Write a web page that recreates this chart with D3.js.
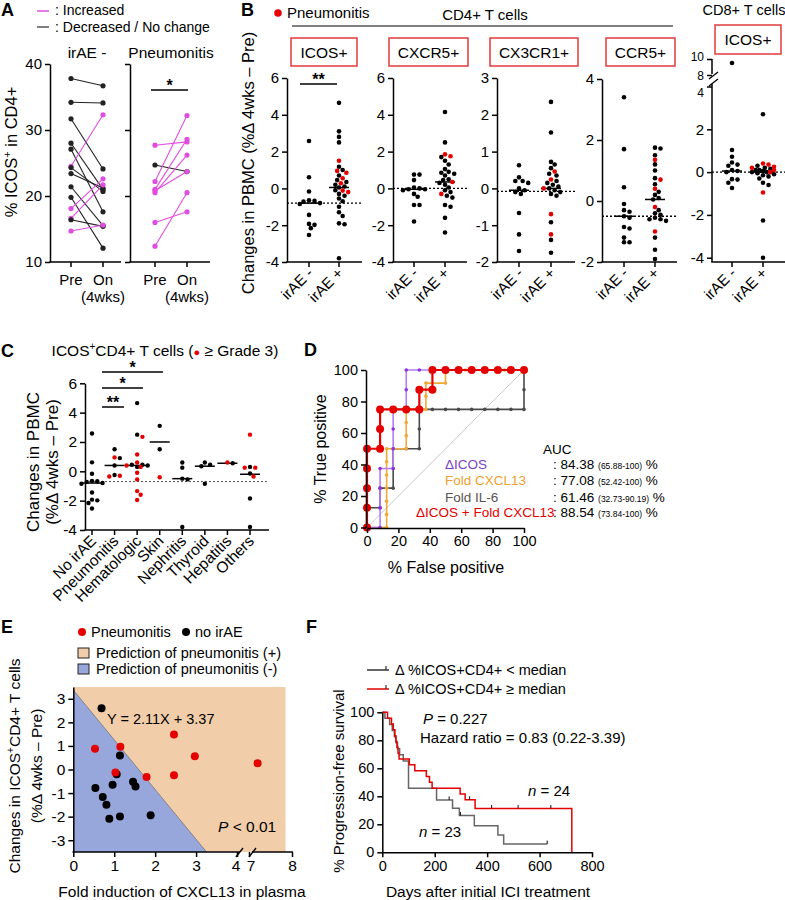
<!DOCTYPE html>
<html>
<head>
<meta charset="utf-8">
<script src="https://cdn.jsdelivr.net/npm/d3@7"></script>
<style>
  body { margin: 0; background: #fff; }
  svg { font-family: "Liberation Sans", Arial, sans-serif; }
</style>
</head>
<body>
<script>
// ---- data: panel A (paired % ICOS+ in CD4+) ----
var aCats = ["Pre", "On"];
var aTicks = [10, 20, 30, 40];
var aIraePre = [37.8, 34.2, 31.7, 28.0, 27.1, 24.5, 24.3, 23.4, 21.4, 19.8, 18.1, 16.6, 16.4, 14.7];
var aIraeOn  = [36.7, 34.1, 24.1, 21.0, 17.6, 32.3, 20.7, 21.2, 15.5, 12.1, 22.6, 21.7, 15.4, 15.6];
var aPnPre = [27.7, 24.7, 22.2, 21.0, 20.5, 20.8, 16.0, 12.4];
var aPnOn  = [28.2, 23.7, 32.2, 28.6, 26.2, 23.7, 17.6, 20.5];

// ---- data: panel B (change in PBMC, irAE- / irAE+) ----
var bMarkers = ["ICOS+", "CXCR5+", "CX3CR1+", "CCR5+", "ICOS+"];
var bGroups = ["irAE -", "irAE +"];
var bNeg = [
  [2.58, 0.61, -0.17, -0.65, -0.68, -0.72, -0.8, -0.85, -1.44, -1.93, -1.98, -2.16, -2.53],
  [0.75, 0.75, 0.45, 0.05, 0.0, -0.05, -0.05, -0.1, -0.3, -0.45, -0.9, -0.9, -1.8],
  [0.63, 0.3, 0.2, 0.2, 0.15, 0.0, -0.05, -0.1, -0.15, -0.67, -1.25, -1.7],
  [3.4, 1.7, 0.45, -0.1, -0.3, -0.35, -0.5, -0.55, -0.85, -0.9, -1.2, -1.35, -1.35],
  [9.5, 1.03, 0.72, 0.45, 0.35, 0.3, 0.1, 0.05, 0.0, -0.33, -0.35, -0.5, -0.74]
];
var bPosBlack = [
  [4.65, 3.1, 2.8, 2.5, 1.18, 1.0, 0.7, 0.45, 0.35, 0.2, 0.1, 0.05, -0.1, -0.3, -0.4, -0.55, -0.7, -1.0, -1.3, -1.5, -1.9, -1.95, -3.8],
  [4.15, 2.5, 1.7, 1.5, 1.3, 1.05, 0.9, 0.85, 0.8, 0.7, 0.5, 0.45, 0.3, 0.2, 0.05, -0.1, -0.2, -0.4, -0.5, -0.9, -1.0, -1.6, -2.4],
  [2.35, 1.52, 0.72, 0.65, 0.55, 0.4, 0.35, 0.2, 0.15, 0.1, 0.05, 0.0, -0.05, -0.1, -0.15, -0.2, -0.92, -1.4, -1.75],
  [1.75, 1.72, 1.5, 1.2, 1.0, 0.75, 0.55, 0.3, 0.2, 0.1, 0.05, -0.3, -0.4, -0.45, -0.55, -0.6, -0.6, -0.65, -1.2, -1.6, -1.9],
  [2.7, 0.3, 0.2, 0.15, 0.1, 0.1, 0.05, 0.0, 0.0, -0.05, -0.1, -0.15, -0.2, -0.3, -0.5, -0.6, -2.26, -4.0]
];
var bPosRed = [
  [1.5, 0.95, 0.85, 0.55, 0.28, -0.12, -0.2],
  [1.85, 1.75, 0.35, -0.3],
  [0.46, 0.24, 0.0, -0.7, -1.25],
  [1.35, 0.7, 0.4, -0.2, -1.0],
  [0.4, 0.35, 0.25, 0.2, 0.1, 0.0, -0.95]
];
var bMedNeg = [-0.8, -0.05, -0.05, -0.5, 0.05];
var bMedPos = [0.05, 0.35, 0.0, 0.05, 0.0];
var bRef = [-0.8, 0.0, -0.08, -0.5, 0.0];
var bTicks = [[-4, -2, 0, 2, 4, 6], [-4, -2, 0, 2, 4, 6], [-2, -1, 0, 1, 2, 3], [-2, 0, 2, 4], [-4, -2, 0, 2, 4, 8, 10]];

// ---- data: panel C (ICOS+CD4+ by irAE type) ----
var cCats = ["No irAE", "Pneumonitis", "Hematologic", "Skin", "Nephritis", "Thyroid", "Hepatitis", "Others"];
var cBlack = [
  [2.58, 0.61, -0.17, -0.65, -0.68, -0.72, -0.8, -0.85, -1.44, -1.93, -1.98, -2.16, -2.53],
  [1.5, 0.9, 0.4, -0.25],
  [4.65, 2.5, 0.45, 0.45, 0.4, 0.3],
  [3.1, 1.5],
  [0.6, 0.25, -0.5, -0.55, -3.8],
  [0.6, 0.45, 0.35, -0.85],
  [0.55],
  [0.3, -0.15, -1.85, -3.8]
];
var cRed = [
  [],
  [0.95, -0.3, -0.35],
  [2.35, 1.15, 0.6, 0.4, 0.3, -0.1, -0.55, -1.35, -1.6, -1.95],
  [-0.4],
  [],
  [],
  [0.6],
  [2.5, 0.25, 0.25, -0.35]
];
var cMedians = [-0.8, 0.4, 0.4, 2.0, -0.5, 0.35, 0.55, -0.2];
var cRef = -0.7;
var cTicks = [-4, -2, 0, 2, 4, 6];

// ---- data: panel D (ROC curves, % false positive / % true positive) ----
var rocNames = ["Fold IL-6", "Fold CXCL13", "\u0394ICOS", "\u0394ICOS + Fold CXCL13"];
var rocAuc = ["61.46", "77.08", "84.38", "88.54"];
var rocCi = ["(32.73-90.19)", "(52.42-100)", "(65.88-100)", "(73.84-100)"];
var rocFpr = [
  [0, 0, 8.33, 8.33, 16.67, 16.67, 16.67, 25, 33.33, 33.33, 33.33, 41.67, 50, 58.33, 66.67, 75, 83.33, 91.67, 100, 100, 100],
  [0, 12.5, 12.5, 12.5, 12.5, 12.5, 12.5, 12.5, 25, 25, 25, 25, 37.5, 37.5, 37.5, 50, 50, 62.5, 75, 87.5, 100],
  [0, 8.33, 8.33, 8.33, 8.33, 16.67, 16.67, 16.67, 16.67, 25, 25, 25, 33.33, 41.67, 50, 58.33, 66.67, 75, 83.33, 91.67, 100],
  [0, 0, 0, 0, 0, 8.33, 8.33, 8.33, 16.67, 25, 33.33, 33.33, 41.67, 41.67, 50, 58.33, 66.67, 75, 83.33, 91.67, 100]
];
var rocTpr = [
  [0, 12.5, 12.5, 25, 25, 37.5, 50, 50, 50, 62.5, 75, 75, 75, 75, 75, 75, 75, 75, 75, 87.5, 100],
  [0, 0, 8.33, 16.67, 25, 33.33, 41.67, 50, 50, 58.33, 66.67, 75, 75, 83.33, 91.67, 91.67, 100, 100, 100, 100, 100],
  [0, 0, 12.5, 25, 37.5, 37.5, 50, 62.5, 75, 75, 87.5, 100, 100, 100, 100, 100, 100, 100, 100, 100, 100],
  [0, 12.5, 25, 37.5, 50, 50, 62.5, 75, 75, 75, 75, 87.5, 87.5, 100, 100, 100, 100, 100, 100, 100, 100]
];

// ---- data: panel E (CXCL13 fold vs change in ICOS+CD4+) ----
var ePnX = [0.53, 1.15, 1.03, 1.79, 2.46, 2.46, 2.97, 7.2];
var ePnY = [0.88, 0.97, -0.13, -0.32, 1.48, -0.24, 0.56, 0.27];
var eNoX = [0.69, 1.14, 1.06, 0.54, 0.96, 0.72, 0.81, 0.88, 1.14, 1.46, 1.52, 1.89];
var eNoY = [2.6, 0.59, -0.2, -0.79, -0.65, -1.17, -1.5, -2.09, -1.99, -0.52, -0.72, -1.94];
var eSlope = -2.11, eIntercept = 3.37;
var eXTicks = [0, 1, 2, 3, 4, 7, 8];
var eYTicks = [-3, -2, -1, 0, 1, 2, 3];

// ---- data: panel F (Kaplan-Meier, days / % PFS) ----
var kmHigh = [[0, 100], [20, 95.8], [35, 91.7], [42, 87.5], [48, 83.3], [52, 79.2], [56, 75], [60, 70.8], [64, 66.7], [103, 62.5], [124, 58.3], [168, 54.2], [180, 50], [190, 45.8], [297, 41.7], [316, 37.5], [354, 31.3], [723, 0]];
var kmLow = [[0, 100], [10, 95.7], [28, 91.3], [38, 87], [46, 82.6], [52, 78.3], [58, 73.9], [66, 69.6], [80, 65.2], [100, 45.7], [207, 37.4], [268, 31.4], [294, 26.2], [351, 19], [441, 12.3], [463, 5.9], [629, 5.9]];
var kmHighCens = [[333, 37.5], [417, 31.3], [518, 31.3], [643, 31.3]];
var kmLowCens = [[255, 37.4], [298, 26.2], [629, 5.9]];
var fXTicks = [0, 200, 400, 600, 800];
var fYTicks = [0, 20, 40, 60, 80, 100];

var RED = "#e50000", MAG = "#e04ee0";
var svg = d3.select("body").append("svg").attr("width", 785).attr("height", 900);
var fmt = function (d) { return String(d); };

function text(x, y, s, size, anchor) {
  return svg.append("text").attr("x", x).attr("y", y).attr("font-size", size)
    .attr("text-anchor", anchor || "start").text(s);
}
function vtext(x, y, s, size) {
  return svg.append("text").attr("transform", "translate(" + x + "," + y + ") rotate(-90)")
    .attr("font-size", size).attr("text-anchor", "middle").text(s);
}
function letter(x, y, s) {
  text(x, y, s, 18).attr("font-weight", "bold");
}
function yAxis(x, scale, ticks, size, noLabels) {
  var g = svg.append("g").attr("transform", "translate(" + x + ",0)")
    .call(d3.axisLeft(scale).tickValues(ticks).tickSize(5).tickSizeOuter(0).tickPadding(3)
      .tickFormat(noLabels ? "" : fmt));
  g.attr("font-family", null).attr("font-size", size);
  g.selectAll("path,line").attr("stroke", "#000").attr("stroke-width", 1.5);
  g.selectAll("text").attr("fill", "#000");
  return g;
}
function xAxis(y, scale, ticks, size, labels) {
  var g = svg.append("g").attr("transform", "translate(0," + y + ")")
    .call(d3.axisBottom(scale).tickValues(ticks).tickSize(5).tickSizeOuter(0).tickPadding(3)
      .tickFormat(labels ? fmt : ""));
  g.attr("font-family", null).attr("font-size", size);
  g.selectAll("path,line").attr("stroke", "#000").attr("stroke-width", 1.5);
  g.selectAll("text").attr("fill", "#000");
  return g;
}
function hline(x1, x2, y, w, dash) {
  return svg.append("line").attr("x1", x1).attr("x2", x2).attr("y1", y).attr("y2", y)
    .attr("stroke", "#000").attr("stroke-width", w || 1.5).attr("stroke-dasharray", dash || null);
}
function sig(x1, x2, y, s) {
  hline(x1, x2, y, 1.5);
  text((x1 + x2) / 2, y + 1, s, 16, "middle").attr("font-weight", "bold");
}
// simple deterministic beeswarm: nearest free slot within maxOff, else least crowded
function swarm(black, red, y, cx, r, maxOff) {
  var pts = black.map(function (v) { return { v: v, red: false }; })
    .concat(red.map(function (v) { return { v: v, red: true }; }));
  pts.forEach(function (p) { p.y = y(p.v); });
  pts.sort(function (a, b) { return a.y - b.y; });
  var placed = [];
  pts.forEach(function (p) {
    var bestOff = 0, bestD = -1;
    for (var k = 0; k < 80; k++) {
      var off = (k % 2 === 1 ? 1 : -1) * Math.ceil(k / 2) * r * 0.8;
      if (Math.abs(off) > maxOff) break;
      var dmin = d3.min(placed, function (q) {
        var dx = q.x - (cx + off), dy = q.y - p.y;
        return dx * dx + dy * dy;
      });
      if (dmin === undefined || dmin >= 3.6 * r * r) { bestOff = off; bestD = Infinity; break; }
      if (dmin > bestD) { bestD = dmin; bestOff = off; }
    }
    p.x = cx + bestOff;
    placed.push(p);
  });
  pts.sort(function (a, b) { return a.red - b.red; });
  return pts;
}
function dots(pts, r) {
  svg.append("g").selectAll("circle").data(pts).join("circle")
    .attr("cx", function (d) { return d.x; }).attr("cy", function (d) { return d.y; })
    .attr("r", r).attr("fill", function (d) { return d.red ? RED : "#000"; });
}
function rotLabel(x, y, s, size) {
  svg.append("text").attr("transform", "translate(" + x + "," + y + ") rotate(-45)")
    .attr("font-size", size).attr("text-anchor", "end").text(s);
}

// ================= Panel A =================
letter(1, 16, "A");
svg.append("line").attr("x1", 37).attr("x2", 49).attr("y1", 11).attr("y2", 11).attr("stroke", MAG).attr("stroke-width", 1.5);
text(55, 15, ": Increased", 14);
svg.append("line").attr("x1", 37).attr("x2", 49).attr("y1", 27).attr("y2", 27).attr("stroke", "#555").attr("stroke-width", 1.5);
text(55, 32, ": Decreased / No change", 14);

var yA = d3.scaleLinear().domain([10, 40]).range([262, 64]);
var aPanels = [
  { pre: aIraePre, on: aIraeOn, ax: 50, end: 121, x: d3.scalePoint().domain(aCats).range([71, 103]), title: "irAE -" },
  { pre: aPnPre, on: aPnOn, ax: 130, end: 210, x: d3.scalePoint().domain(aCats).range([155, 187]), title: "Pneumonitis" }
];
aPanels.forEach(function (p, pi) {
  yAxis(p.ax, yA, aTicks, 15, pi === 1);
  hline(p.ax - 0.75, p.end, 262);
  aCats.forEach(function (c) {
    svg.append("line").attr("x1", p.x(c)).attr("x2", p.x(c)).attr("y1", 262).attr("y2", 267).attr("stroke", "#000").attr("stroke-width", 1.5);
  });
  text(p.x("Pre"), 285, "Pre", 15, "middle");
  text(p.x("On"), 285, "On", 15, "middle");
  text(p.x("On"), 302, "(4wks)", 15, "middle");
  text((p.x("Pre") + p.x("On")) / 2, 58, p.title, 15.5, "middle");
  var idx = d3.range(p.pre.length);
  var col = function (i) { return p.on[i] > p.pre[i] ? MAG : "#222"; };
  svg.append("g").selectAll("line").data(idx).join("line")
    .attr("x1", p.x("Pre")).attr("x2", p.x("On"))
    .attr("y1", function (i) { return yA(p.pre[i]); }).attr("y2", function (i) { return yA(p.on[i]); })
    .attr("stroke", col).attr("stroke-width", 1.1);
  svg.append("g").selectAll("circle").data(idx.concat(idx.map(function (i) { return i + 100; }))).join("circle")
    .attr("cx", function (k) { return k < 100 ? p.x("Pre") : p.x("On"); })
    .attr("cy", function (k) { return k < 100 ? yA(p.pre[k]) : yA(p.on[k - 100]); })
    .attr("r", 2.6).attr("fill", function (k) { return col(k % 100); });
});
vtext(17, 152, "", 16.5).call(function (t) {
  t.append("tspan").text("% ICOS");
  t.append("tspan").attr("font-size", 11).attr("dy", -6).text("+");
  t.append("tspan").attr("dy", 6).text(" in CD4+");
});
sig(151, 188, 90, "*");

// ================= Panel B =================
letter(241, 16, "B");
svg.append("circle").attr("cx", 278).attr("cy", 13).attr("r", 3.8).attr("fill", RED);
text(287, 18, "Pneumonitis", 15);
text(485, 20, "CD4+ T cells", 15, "middle");
hline(292, 673, 26, 1);
text(744, 15, "CD8+ T cells", 14.5, "middle");
vtext(254, 163, "Changes in PBMC (%\u0394 4wks \u2013 Pre)", 16.5);

var bLayout = [
  { ax: 287, end: 362, c: [309, 339], box: [291, 357, 38, 66] },
  { ax: 393, end: 467, c: [414, 445], box: [389, 468, 38, 66] },
  { ax: 497, end: 575, c: [519, 551], box: [490, 578, 38, 66] },
  { ax: 602, end: 677, c: [624, 655], box: [606, 675, 38, 66] },
  { ax: 712, end: 785, c: [732, 763], box: [715, 781, 25, 54] }
];
var bScales = [
  d3.scaleLinear().domain([-4, 6]).range([262, 78]),
  d3.scaleLinear().domain([-4, 6]).range([262, 78]),
  d3.scaleLinear().domain([-2, 3]).range([262, 78]),
  d3.scaleLinear().domain([-2, 4]).range([262, 79]),
  d3.scaleLinear().domain([-4.2, 4, 8, 10]).range([262, 86.5, 75, 59])
];
bMarkers.forEach(function (m, i) {
  var L = bLayout[i], y = bScales[i];
  var x = d3.scalePoint().domain(bGroups).range(L.c);
  svg.append("rect").attr("x", L.box[0]).attr("y", L.box[2]).attr("width", L.box[1] - L.box[0]).attr("height", L.box[3] - L.box[2])
    .attr("fill", "none").attr("stroke", "#e23a3a").attr("stroke-width", 1.5);
  text((L.box[0] + L.box[1]) / 2, (L.box[2] + L.box[3]) / 2 + 5.5, m, 15.5, "middle");
  var g = yAxis(L.ax, y, bTicks[i], 15);
  if (i === 4) {
    g.select(".domain").remove();
    g.selectAll(".tick text").attr("font-size", function (d) { return d >= 4 ? 12 : 15; })
      .attr("dy", function (d) { return d === 10 ? "0.15em" : d === 8 ? "0.4em" : d === 4 ? "0.8em" : "0.32em"; });
    svg.append("line").attr("x1", L.ax).attr("x2", L.ax).attr("y1", 59).attr("y2", 74).attr("stroke", "#000").attr("stroke-width", 1.5);
    svg.append("line").attr("x1", L.ax).attr("x2", L.ax).attr("y1", 84).attr("y2", 262).attr("stroke", "#000").attr("stroke-width", 1.5);
    svg.append("line").attr("x1", L.ax - 3).attr("x2", L.ax + 6).attr("y1", 79).attr("y2", 72).attr("stroke", "#000").attr("stroke-width", 1.3);
    svg.append("line").attr("x1", L.ax - 3).attr("x2", L.ax + 6).attr("y1", 86).attr("y2", 79).attr("stroke", "#000").attr("stroke-width", 1.3);
  }
  hline(L.ax - 0.75, L.end, 262);
  bGroups.forEach(function (gname) {
    svg.append("line").attr("x1", x(gname)).attr("x2", x(gname)).attr("y1", 262).attr("y2", 267).attr("stroke", "#000").attr("stroke-width", 1.5);
    rotLabel(x(gname) + 5, 274, gname, 15);
  });
  hline(L.ax, L.end, y(bRef[i]), 1.3, "2,2");
  hline(x("irAE -") - 10, x("irAE -") + 10, y(bMedNeg[i]), 1.5);
  hline(x("irAE +") - 10, x("irAE +") + 10, y(bMedPos[i]), 1.5);
  dots(swarm(bNeg[i], [], y, x("irAE -"), 2.3, 12), 2.3);
  dots(swarm(bPosBlack[i], bPosRed[i], y, x("irAE +"), 2.3, 12), 2.3);
});
sig(300, 337, 84, "**");

// ================= Panel C =================
letter(1, 357, "C");
var ct = text(165, 356, "", 15.5, "middle");
ct.append("tspan").text("ICOS");
ct.append("tspan").attr("font-size", 10).attr("dy", -6).text("+");
ct.append("tspan").attr("dy", 6).text("CD4+ T cells (");
ct.append("tspan").attr("fill", RED).attr("font-size", 11).text("\u25CF");
ct.append("tspan").text(" \u2265 Grade 3)");

var yC = d3.scaleLinear().domain([-4, 6]).range([530, 383.3]);
var xC = d3.scalePoint().domain(cCats).range([92, 250]);
yAxis(85, yC, cTicks, 15.5);
hline(84.25, 269, 530);
cCats.forEach(function (c, i) {
  svg.append("line").attr("x1", xC(c)).attr("x2", xC(c)).attr("y1", 530).attr("y2", 535).attr("stroke", "#000").attr("stroke-width", 1.5);
  rotLabel(xC(c) + 5, 542, c, 15.5);
  hline(xC(c) - 10, xC(c) + 10, yC(cMedians[i]), 1.5);
});
hline(85, 269, yC(cRef), 1, "2,2").attr("stroke", "#555");
cCats.forEach(function (c, i) {
  dots(swarm(cBlack[i], cRed[i], yC, xC(c), 2.2, 11), 2.2);
});
vtext(39, 462, "Changes in PBMC", 17);
vtext(58, 462, "(%\u0394 4wks \u2013 Pre)", 17);
sig(102, 124, 407, "**");
sig(102, 143, 388, "*");
sig(102, 163, 372, "*");

// ================= Panel D =================
letter(304, 356, "D");
var xD = d3.scaleLinear().domain([0, 100]).range([367, 524]);
var yD = d3.scaleLinear().domain([0, 100]).range([527.5, 370]);
svg.append("line").attr("x1", xD(0)).attr("y1", yD(0)).attr("x2", xD(100)).attr("y2", yD(100))
  .attr("stroke", "#bbb").attr("stroke-width", 0.8);
var rocLine = ["#4a4a4a", "#f0a838", "#b47cf0", RED];
var rocDot = ["#4a4a4a", "#f0a838", "#8d33e0", RED];
var rocW = [1.6, 1.6, 1.6, 2.2];
var rocR = [1.8, 1.8, 1.8, 4];
rocNames.forEach(function (n, i) {
  var pts = rocFpr[i].map(function (f, k) { return [f, rocTpr[i][k]]; });
  svg.append("path").datum(pts)
    .attr("d", d3.line().x(function (d) { return xD(d[0]); }).y(function (d) { return yD(d[1]); }))
    .attr("fill", "none").attr("stroke", rocLine[i]).attr("stroke-width", rocW[i]);
  svg.append("g").selectAll("circle").data(pts).join("circle")
    .attr("cx", function (d) { return xD(d[0]); }).attr("cy", function (d) { return yD(d[1]); })
    .attr("r", rocR[i]).attr("fill", rocDot[i]);
});
yAxis(366, yD, [0, 20, 40, 60, 80, 100], 14.5);
xAxis(528, xD, [0, 20, 40, 60, 80, 100], 14.5, true);
vtext(326, 449, "% True positive", 16);
text(446, 573, "% False positive", 16, "middle");
text(543, 454, "AUC", 13.5);
var rocText = ["#555", "#f0a030", "#7b3fc4", RED];
var rocLabelX = [445, 445, 445, 416];
var rocLabelY = [502, 485, 469, 517];
rocNames.forEach(function (n, i) {
  text(rocLabelX[i], rocLabelY[i], n, 13.5).attr("fill", rocText[i]);
  var t = text(553, rocLabelY[i], "", 13.5);
  t.append("tspan").text(": " + rocAuc[i] + " ");
  t.append("tspan").attr("font-size", 8.5).text(rocCi[i]);
  t.append("tspan").text(" %");
});

// ================= Panel E =================
letter(1, 633, "E");
svg.append("circle").attr("cx", 82).attr("cy", 632).attr("r", 4).attr("fill", RED);
text(91, 637, "Pneumonitis", 14.5);
svg.append("circle").attr("cx", 186).attr("cy", 632).attr("r", 4).attr("fill", "#000");
text(195, 637, "no irAE", 14.5);
svg.append("rect").attr("x", 78).attr("y", 648).attr("width", 11).attr("height", 10).attr("fill", "#f2cdaa").attr("stroke", "#222");
text(96, 658, "Prediction of pneumonitis (+)", 14.5);
svg.append("rect").attr("x", 78).attr("y", 664).attr("width", 11).attr("height", 10).attr("fill", "#97a7db").attr("stroke", "#222");
text(96, 674, "Prediction of pneumonitis (-)", 14.5);

var xE = d3.scaleLinear().domain([0, 4, 7, 8]).range([73.3, 237, 249, 292]);
var yE = d3.scaleLinear().domain([-3.5, 3.5]).range([852, 687]);
var eXEnd = (-3.5 - eIntercept) / eSlope;
svg.append("rect").attr("x", xE(0)).attr("y", yE(3.5)).attr("width", xE(7.85) - xE(0)).attr("height", yE(-3.5) - yE(3.5)).attr("fill", "#f2cdaa");
svg.append("path").attr("d", "M" + xE(0) + "," + yE(-3.5) + "L" + xE(0) + "," + yE(eIntercept) + "L" + xE(eXEnd) + "," + yE(-3.5) + "Z")
  .attr("fill", "#97a7db");
svg.append("line").attr("x1", xE(0)).attr("y1", yE(eIntercept)).attr("x2", xE(eXEnd)).attr("y2", yE(-3.5))
  .attr("stroke", "#777").attr("stroke-width", 0.8);
yAxis(73.3, yE, eYTicks, 15.5);
var gx = xAxis(852, xE, eXTicks, 15.5, true);
gx.select(".domain").remove();
gx.selectAll(".tick text").attr("dx", function (d) { return d === 4 ? "-0.1em" : d === 7 ? "0.1em" : 0; });
hline(72.5, 240, 852);
hline(252, 293, 852);
svg.append("line").attr("x1", 236).attr("x2", 243).attr("y1", 857).attr("y2", 848).attr("stroke", "#000").attr("stroke-width", 1.3);
svg.append("line").attr("x1", 249).attr("x2", 256).attr("y1", 857).attr("y2", 848).attr("stroke", "#000").attr("stroke-width", 1.3);
svg.append("g").selectAll("circle").data(eNoX).join("circle")
  .attr("cx", function (d) { return xE(d); }).attr("cy", function (d, i) { return yE(eNoY[i]); })
  .attr("r", 4).attr("fill", "#000");
svg.append("g").selectAll("circle").data(ePnX).join("circle")
  .attr("cx", function (d) { return xE(d); }).attr("cy", function (d, i) { return yE(ePnY[i]); })
  .attr("r", 4).attr("fill", RED);
text(107, 724, "Y = 2.11X + 3.37", 14.5);
var pt = text(218, 832, "", 15.5);
pt.append("tspan").attr("font-style", "italic").text("P");
pt.append("tspan").text(" < 0.01");
var ey = vtext(20, 766, "", 15.5);
ey.append("tspan").text("Changes in ICOS");
ey.append("tspan").attr("font-size", 10).attr("dy", -6).text("+");
ey.append("tspan").attr("dy", 6).text("CD4+ T cells");
vtext(42, 766, "(%\u0394 4wks \u2013 Pre)", 15.5);
text(182, 897, "Fold induction of CXCL13 in plasma", 15.5, "middle");

// ================= Panel F =================
letter(306, 633, "F");
var xF = d3.scaleLinear().domain([0, 800]).range([382.3, 592]);
var yF = d3.scaleLinear().domain([0, 100]).range([852.3, 712.3]);
svg.append("line").attr("x1", 367).attr("x2", 389).attr("y1", 670).attr("y2", 670).attr("stroke", "#333").attr("stroke-width", 1.5);
svg.append("line").attr("x1", 386).attr("x2", 386).attr("y1", 670).attr("y2", 666).attr("stroke", "#333").attr("stroke-width", 1.2);
text(395, 675, "\u0394 %ICOS+CD4+ < median", 14.5);
svg.append("line").attr("x1", 367).attr("x2", 389).attr("y1", 689).attr("y2", 689).attr("stroke", RED).attr("stroke-width", 1.5);
svg.append("line").attr("x1", 386).attr("x2", 386).attr("y1", 689).attr("y2", 685).attr("stroke", "#333").attr("stroke-width", 1.2);
text(395, 694, "\u0394 %ICOS+CD4+ \u2265 median", 14.5);
var km = d3.line().curve(d3.curveStepAfter).x(function (d) { return xF(d[0]); }).y(function (d) { return yF(d[1]); });
svg.append("path").datum(kmLow).attr("d", km).attr("fill", "none").attr("stroke", "#666").attr("stroke-width", 1.5);
svg.append("path").datum(kmHigh).attr("d", km).attr("fill", "none").attr("stroke", RED).attr("stroke-width", 1.5);
svg.append("g").selectAll("line").data(kmLowCens.concat(kmHighCens)).join("line")
  .attr("x1", function (d) { return xF(d[0]); }).attr("x2", function (d) { return xF(d[0]); })
  .attr("y1", function (d) { return yF(d[1]); }).attr("y2", function (d) { return yF(d[1]) - 3.5; })
  .attr("stroke", "#111").attr("stroke-width", 1);
yAxis(382.3, yF, fYTicks, 14.5);
xAxis(852.3, xF, fXTicks, 14.5, true);
var fp = text(423, 724, "", 15);
fp.append("tspan").attr("font-style", "italic").text("P");
fp.append("tspan").text(" = 0.227");
text(420, 743, "Hazard ratio = 0.83 (0.22-3.39)", 15);
var n1 = text(528, 796, "", 15);
n1.append("tspan").attr("font-style", "italic").text("n");
n1.append("tspan").text(" = 24");
var n2 = text(419, 837, "", 15);
n2.append("tspan").attr("font-style", "italic").text("n");
n2.append("tspan").text(" = 23");
vtext(344, 781, "% Progression-free survival", 15);
text(488, 897, "Days after initial ICI treatment", 15.5, "middle");
</script>
</body>
</html>
